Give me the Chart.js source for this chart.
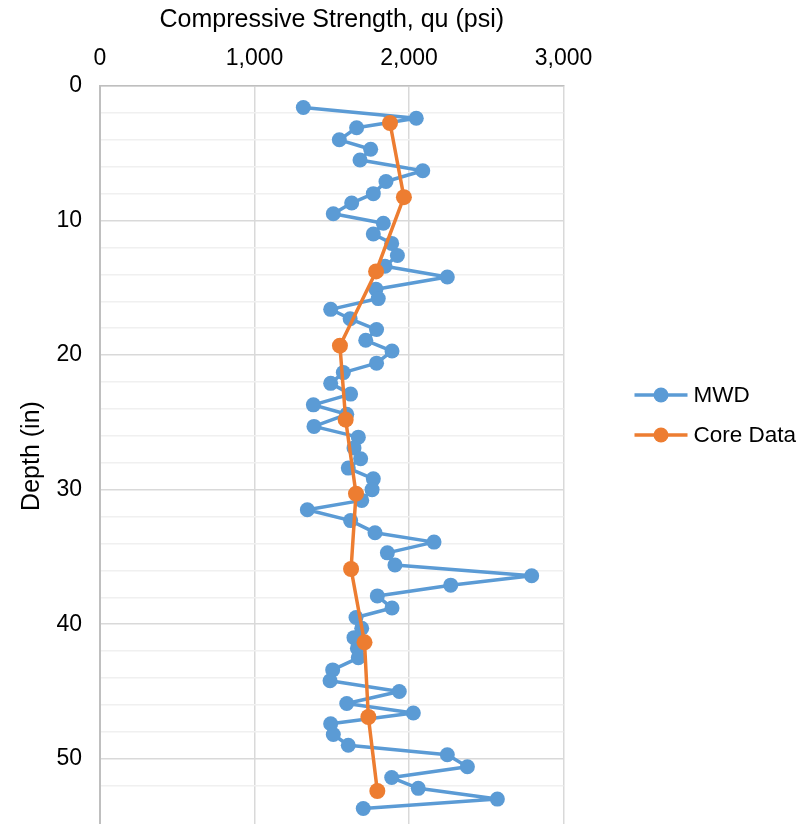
<!DOCTYPE html>
<html>
<head>
<meta charset="utf-8">
<script src="https://cdn.jsdelivr.net/npm/chart.js@4.4.1/dist/chart.umd.min.js"></script>
<style>
  html, body { margin: 0; padding: 0; background: #fff; overflow: hidden; }
  #wrap { width: 812px; height: 826px; }
</style>
</head>
<body>
<div id="wrap"><canvas id="chart" width="812" height="826"></canvas></div>
<script>
// MWD readings: depth (in) and compressive strength (psi)
const mwdDepth = [1.6, 2.4, 3.1, 4.0, 4.7, 5.5, 6.3, 7.1, 8.0, 8.7, 9.5, 10.2, 11.0, 11.7, 12.6, 13.4, 14.2, 15.1, 15.8, 16.6,
  17.3, 18.1, 18.9, 19.7, 20.6, 21.3, 22.1, 22.9, 23.7, 24.4, 25.3, 26.1, 26.9, 27.7, 28.4, 29.2, 30.0, 30.8, 31.5, 32.3,
  33.2, 33.9, 34.7, 35.6, 36.4, 37.1, 37.9, 38.8, 39.5, 40.3, 41.0, 41.8, 42.5, 43.4, 44.2, 45.0, 45.9, 46.6, 47.4, 48.2,
  49.0, 49.7, 50.6, 51.4, 52.2, 53.0, 53.7];
const mwdStrength = [1316, 2047, 1661, 1549, 1752, 1683, 2089, 1851, 1769, 1629, 1510, 1834, 1769, 1888, 1925, 1845, 2248, 1786, 1801, 1493,
  1619, 1790, 1720, 1890, 1790, 1575, 1493, 1622, 1381, 1597, 1385, 1672, 1644, 1687, 1607, 1769, 1761, 1694, 1342, 1622,
  1780, 2162, 1860, 1909, 2794, 2270, 1795, 1890, 1657, 1694, 1644, 1666, 1672, 1506, 1489, 1937, 1597, 2028, 1493, 1510,
  1607, 2248, 2378, 1888, 2060, 2572, 1704];

// core samples
const coreDepth = [2.75, 8.26, 13.78, 19.3, 24.8, 30.3, 35.9, 41.35, 46.9, 52.4];
const coreStrength = [1877, 1967, 1787, 1553, 1590, 1657, 1625, 1712, 1737, 1795];

const seriesNames = ['MWD', 'Core Data'];
const xTicks = [0, 1000, 2000, 3000];
const yLabelTicks = [0, 10, 20, 30, 40, 50];

const blue = '#5b9bd5';
const orange = '#ed7d31';
const FONT = "'Liberation Sans', Arial, sans-serif";

function toPoints(xs, ys) {
  return xs.map((v, i) => ({ x: v, y: ys[i] }));
}

// excel-style legend: line with a dot, then the series name
const sideLegend = {
  id: 'sideLegend',
  afterDraw(chart) {
    const c = chart.ctx;
    const x0 = chart.chartArea.right + 71;
    const yMid = 415;
    c.save();
    c.font = '22.5px ' + FONT;
    c.textBaseline = 'middle';
    c.textAlign = 'left';
    chart.data.datasets.forEach((ds, i) => {
      const y = yMid + (i - 0.5) * 40;
      c.strokeStyle = ds.borderColor;
      c.lineWidth = 3.5;
      c.beginPath();
      c.moveTo(x0, y);
      c.lineTo(x0 + 53, y);
      c.stroke();
      c.fillStyle = ds.borderColor;
      c.beginPath();
      c.arc(x0 + 26.5, y, 7.5, 0, Math.PI * 2);
      c.fill();
      c.fillStyle = '#000';
      c.fillText(ds.label, x0 + 59, y + 1);
    });
    c.restore();
  }
};

const ctx = document.getElementById('chart').getContext('2d');

new Chart(ctx, {
  type: 'scatter',
  data: {
    datasets: [{
      label: seriesNames[0],
      data: toPoints(mwdStrength, mwdDepth),
      showLine: true,
      borderColor: blue,
      backgroundColor: blue,
      borderWidth: 3.5,
      borderJoinStyle: 'round',
      borderCapStyle: 'round',
      pointRadius: 7.5,
      pointBorderWidth: 0,
      order: 2
    }, {
      label: seriesNames[1],
      data: toPoints(coreStrength, coreDepth),
      showLine: true,
      borderColor: orange,
      backgroundColor: orange,
      borderWidth: 3.5,
      borderJoinStyle: 'round',
      borderCapStyle: 'round',
      pointRadius: 8,
      pointBorderWidth: 0,
      order: 1
    }]
  },
  options: {
    responsive: false,
    animation: false,
    layout: { autoPadding: false, padding: { top: 4, right: 248.5, bottom: 0, left: 0 } },
    plugins: {
      tooltip: { enabled: false },
      legend: { display: false }
    },
    scales: {
      x: {
        type: 'linear',
        position: 'top',
        min: 0,
        max: 3000,
        afterFit: (s) => { s.height = 82; s.paddingLeft = 0; s.paddingRight = 0; },
        afterBuildTicks: (s) => { s.ticks = xTicks.map(v => ({ value: v })); },
        ticks: {
          padding: 14,
          color: '#000',
          font: { family: FONT, size: 23 },
          callback: (v) => v.toLocaleString('en-US')
        },
        grid: { color: '#d9d9d9', lineWidth: 1.5, drawTicks: false },
        border: { color: '#bfbfbf', width: 1.5 },
        title: {
          display: true,
          text: 'Compressive Strength, qu (psi)',
          color: '#000',
          font: { family: FONT, size: 25 },
          padding: { top: 1, bottom: 0 }
        }
      },
      y: {
        type: 'linear',
        reverse: true,
        min: 0,
        max: 55,
        afterFit: (s) => { s.width = 100; s.paddingTop = 0; s.paddingBottom = 0; },
        ticks: {
          stepSize: 2,
          autoSkip: false,
          padding: 18,
          color: '#000',
          font: { family: FONT, size: 23 },
          callback: (v) => yLabelTicks.includes(v) ? String(v) : ''
        },
        grid: {
          drawTicks: false,
          lineWidth: 1.5,
          color: (c) => (c.tick && c.tick.value % 10 === 0) ? '#d9d9d9' : '#f0f0f0'
        },
        border: { color: '#bfbfbf', width: 2 },
        title: {
          display: true,
          text: 'Depth (in)',
          color: '#000',
          font: { family: FONT, size: 25 },
          padding: { top: 17.5, bottom: 0 }
        }
      }
    }
  },
  plugins: [sideLegend]
});
</script>
</body>
</html>
